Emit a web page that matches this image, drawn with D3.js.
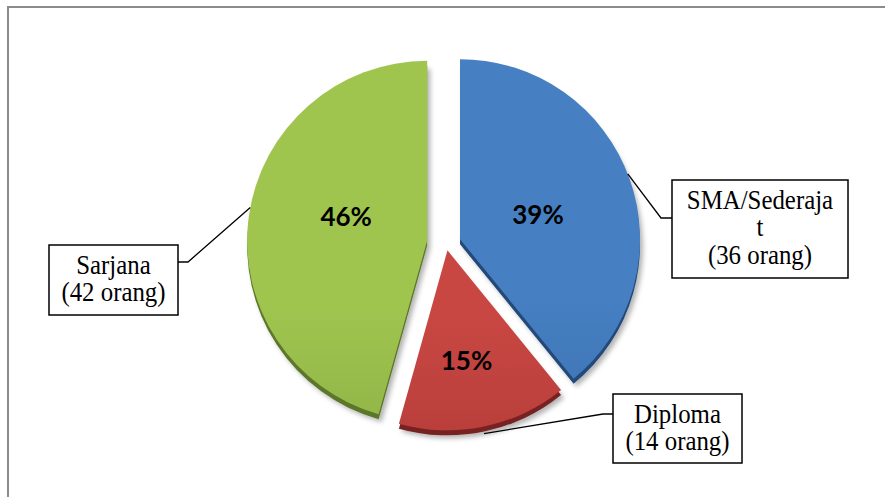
<!DOCTYPE html>
<html><head><meta charset="utf-8">
<script src="https://cdn.jsdelivr.net/npm/d3@7"></script>
<style>html,body{margin:0;padding:0;background:#fff;} svg{display:block;}</style>
</head><body>
<script>
// ---- data ----
const categories = ["SMA/Sederajat", "Diploma", "Sarjana"];
const counts = [36, 14, 42];
const percentLabels = ["39%", "15%", "46%"];
const calloutLines = [["SMA/Sederaja", "t", "(36 orang)"], ["Diploma", "(14 orang)"], ["Sarjana", "(42 orang)"]];

// ---- style / layout ----
const W = 885, H = 497;
const topColors = ["#4680c2", "#c94743", "#a0c54f"];
const botColors = ["#2c5a95", "#9a2f2c", "#789a3a"];
const sideColors = ["#234a7a", "#772220", "#5b7629"];
const cx = 444, cy = 242, R = 180, explode = 17, depth = 5;
const boxes = [
  {x: 672, y: 180, w: 176, h: 98, anchor: [672, 218], elbow: [661, 218]},
  {x: 613, y: 394, w: 129, h: 69, anchor: [613, 414], elbow: [603, 414]},
  {x: 49, y: 245, w: 129, h: 70, anchor: [178, 262], elbow: [188, 262]}
];
const leaderAngleShift = [-0.03, 0, 0.05];

const svg = d3.select("body").append("svg").attr("width", W).attr("height", H);
const defs = svg.append("defs");
topColors.forEach((c, i) => {
  const g = defs.append("linearGradient").attr("id", "g" + i)
    .attr("gradientUnits", "userSpaceOnUse").attr("x1", 0).attr("y1", 60).attr("x2", 0).attr("y2", 430);
  g.append("stop").attr("offset", "0%").attr("stop-color", c);
  g.append("stop").attr("offset", "100%").attr("stop-color", botColors[i]);
});
const f = defs.append("filter").attr("id", "sh").attr("x", "-20%").attr("y", "-20%").attr("width", "140%").attr("height", "140%");
f.append("feDropShadow").attr("dx", 3).attr("dy", 3).attr("stdDeviation", 2.5).attr("flood-color", "#000").attr("flood-opacity", 0.3);

// frame
svg.append("rect").attr("x", 8).attr("y", 7).attr("width", 1000).attr("height", 600)
  .attr("fill", "none").attr("stroke", "#8c8c8c").attr("stroke-width", 2);

const pie = d3.pie().sort(null).value(d => d)(counts);
const arc = d3.arc().innerRadius(0).outerRadius(R);

function sliceCenter(d) {
  const m = (d.startAngle + d.endAngle) / 2;
  return [cx + explode * Math.sin(m), cy - explode * 0.5 * Math.cos(m)];
}

const slices = svg.append("g").selectAll("g").data(pie).join("g")
  .attr("transform", d => { const c = sliceCenter(d); return `translate(${c[0]},${c[1]})`; });

slices.append("path").attr("d", arc).attr("transform", `translate(0,${depth})`)
  .attr("fill", (d, i) => sideColors[i]).attr("filter", "url(#sh)");
slices.append("path").attr("d", arc).attr("fill", (d, i) => `url(#g${i})`);

// percent labels
const labelPos = [[78, -15], [19, 120], [-81, -15]];
slices.append("text")
  .attr("x", (d, i) => labelPos[i][0])
  .attr("y", (d, i) => labelPos[i][1])
  .attr("text-anchor", "middle")
  .attr("font-family", "Lato, 'Open Sans', sans-serif").attr("font-weight", "bold")
  .attr("font-size", 26).attr("fill", "#000")
  .text((d, i) => percentLabels[i]);

// leader lines
pie.forEach((d, i) => {
  const c = sliceCenter(d);
  const m = (d.startAngle + d.endAngle) / 2 + leaderAngleShift[i];
  const p = [c[0] + R * Math.sin(m), c[1] - R * Math.cos(m) + (i === 1 ? depth + 2 : 0)];
  const b = boxes[i];
  svg.append("path").attr("d", d3.line()([p, b.elbow, b.anchor]))
    .attr("fill", "none").attr("stroke", "#000").attr("stroke-width", 1.3);
});

// callout boxes
boxes.forEach((b, i) => {
  svg.append("rect").attr("x", b.x).attr("y", b.y).attr("width", b.w).attr("height", b.h)
    .attr("fill", "#fff").attr("stroke", "#000").attr("stroke-width", 1.5);
  const mx = b.x + b.w / 2;
  const t = svg.append("text").attr("text-anchor", "middle")
    .attr("transform", `translate(${mx},0) scale(0.92,1) translate(${-mx},0)`)
    .attr("font-family", "'Times New Roman', 'Liberation Serif', serif").attr("font-size", 27).attr("fill", "#000");
  calloutLines[i].forEach((ln, j) => {
    t.append("tspan").attr("x", mx).attr("y", b.y + 29 + j * 27.5).text(ln);
  });
});
</script>
</body></html>
